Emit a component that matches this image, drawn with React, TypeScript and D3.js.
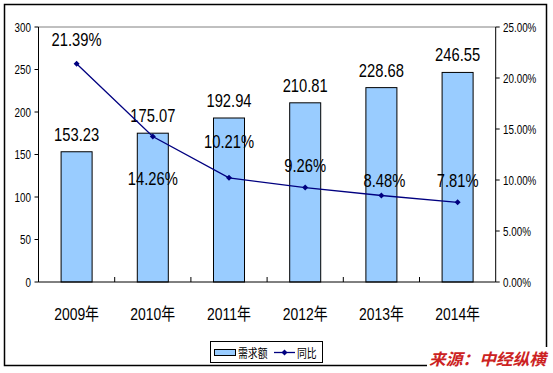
import React from "react";
import * as d3 from "d3";

const years = ["2009年", "2010年", "2011年", "2012年", "2013年", "2014年"];
const demand = [153.23, 175.07, 192.94, 210.81, 228.68, 246.55];
const growth = [0.2139, 0.1426, 0.1021, 0.0926, 0.0848, 0.0781];
const growthLabels = ["21.39%", "14.26%", "10.21%", "9.26%", "8.48%", "7.81%"];
const leftTicks = [0, 50, 100, 150, 200, 250, 300];
const rightTicks = [0, 0.05, 0.1, 0.15, 0.2, 0.25];
const seriesNames = ["需求额", "同比"];
const source = "来源：中经纵横";
// label placement offsets (styling, vertical px relative to point)
const growthLabelDy = [-24, 41.5, -36, -22, -15.5, -22];

const FONT = "'Liberation Sans', 'Noto Sans CJK SC', sans-serif";
const SX = 0.82;

function Txt({ x, y, size, anchor = "start", children, fill = "#000" }: any) {
  return (
    <text
      transform={`translate(${x},${y}) scale(${SX},1)`}
      fontSize={size}
      fontFamily={FONT}
      textAnchor={anchor}
      fill={fill}
    >
      {children}
    </text>
  );
}

export default function App() {
  const L = 38.5, R = 495.7, T = 27, B = 282;
  const x = d3.scaleBand<string>().domain(years).range([L, R]).paddingInner(0.593).paddingOuter(0.2965);
  const y = d3.scaleLinear().domain([0, 300]).range([B, T]);
  const y2 = d3.scaleLinear().domain([0, 0.25]).range([B, T]);
  const step = x.step();
  const cx = (i: number) => (x(years[i]) as number) + x.bandwidth() / 2;
  const line = d3.line<number>().x((_, i) => cx(i)).y((d) => y2(d));
  const diamond = (px: number, py: number, r = 3) =>
    `M${px},${py - r}L${px + r},${py}L${px},${py + r}L${px - r},${py}Z`;

  return (
    <svg width={553} height={373} style={{ position: "absolute", left: 0, top: 0, background: "#fff" }}>
      <rect x={0} y={0} width={553} height={373} fill="#fff" />
      {/* outer border */}
      <path d="M546.5,347V4.5H4.5V365.5H427" fill="none" stroke="#000" strokeWidth={1.5} />
      {/* plot area top */}
      <line x1={L} x2={R} y1={T} y2={T} stroke="#808080" strokeWidth={1} />
      {/* bars */}
      {demand.map((v, i) => (
        <rect key={i} x={x(years[i])} y={y(v)} width={x.bandwidth()} height={B - y(v)}
          fill="#99CCFF" stroke="#000" strokeWidth={1} />
      ))}
      {/* axes */}
      <line x1={L} x2={L} y1={T} y2={B} stroke="#000" />
      <line x1={R} x2={R} y1={T} y2={B} stroke="#000" />
      <line x1={L} x2={R} y1={B} y2={B} stroke="#000" />
      {leftTicks.map((t) => (
        <g key={t}>
          <line x1={L - 4} x2={L} y1={y(t)} y2={y(t)} stroke="#000" />
          <Txt x={31} y={y(t) + 4.5} size={12} anchor="end">{t}</Txt>
        </g>
      ))}
      {rightTicks.map((t) => (
        <g key={t}>
          <line x1={R} x2={R + 4} y1={y2(t)} y2={y2(t)} stroke="#000" />
          <Txt x={503} y={y2(t) + 4.5} size={12}>{(t * 100).toFixed(2) + "%"}</Txt>
        </g>
      ))}
      {years.slice(1).map((_, i) => (
        <line key={i} x1={L + step * (i + 1)} x2={L + step * (i + 1)} y1={B} y2={B - 5} stroke="#000" />
      ))}
      {years.map((yr, i) => (
        <Txt key={yr} x={cx(i)} y={320} size={17} anchor="middle">{yr}</Txt>
      ))}
      {/* bar labels */}
      {demand.map((v, i) => (
        <Txt key={i} x={cx(i)} y={y(v) - 11} size={18} anchor="middle">{v.toFixed(2)}</Txt>
      ))}
      {/* line */}
      <path d={line(growth) || ""} fill="none" stroke="#000080" strokeWidth={1.3} />
      {growth.map((g, i) => (
        <path key={i} d={diamond(cx(i), y2(g))} fill="#000080" />
      ))}
      {growth.map((g, i) => (
        <Txt key={i} x={cx(i) + (i === 4 ? 3 : 0)} y={y2(g) + growthLabelDy[i] + 6.5} size={18} anchor="middle">
          {growthLabels[i]}
        </Txt>
      ))}
      {/* legend */}
      <rect x={210.5} y={341.5} width={112} height={21} fill="#fff" stroke="#000" />
      <rect x={214.5} y={349.5} width={21} height={6} fill="#99CCFF" stroke="#000" />
      <Txt x={238} y={357.5} size={12}>{seriesNames[0]}</Txt>
      <line x1={274} x2={295} y1={352.5} y2={352.5} stroke="#000080" strokeWidth={1.3} />
      <path d={diamond(284.5, 352.5)} fill="#000080" />
      <Txt x={297} y={357.5} size={12}>{seriesNames[1]}</Txt>
      {/* source */}
      <text x={429} y={365} fontSize={16} fontWeight="bold" fontStyle="italic" fontFamily={FONT}
        fill="#CC2222" textLength={117} lengthAdjust="spacingAndGlyphs">{source}</text>
    </svg>
  );
}
